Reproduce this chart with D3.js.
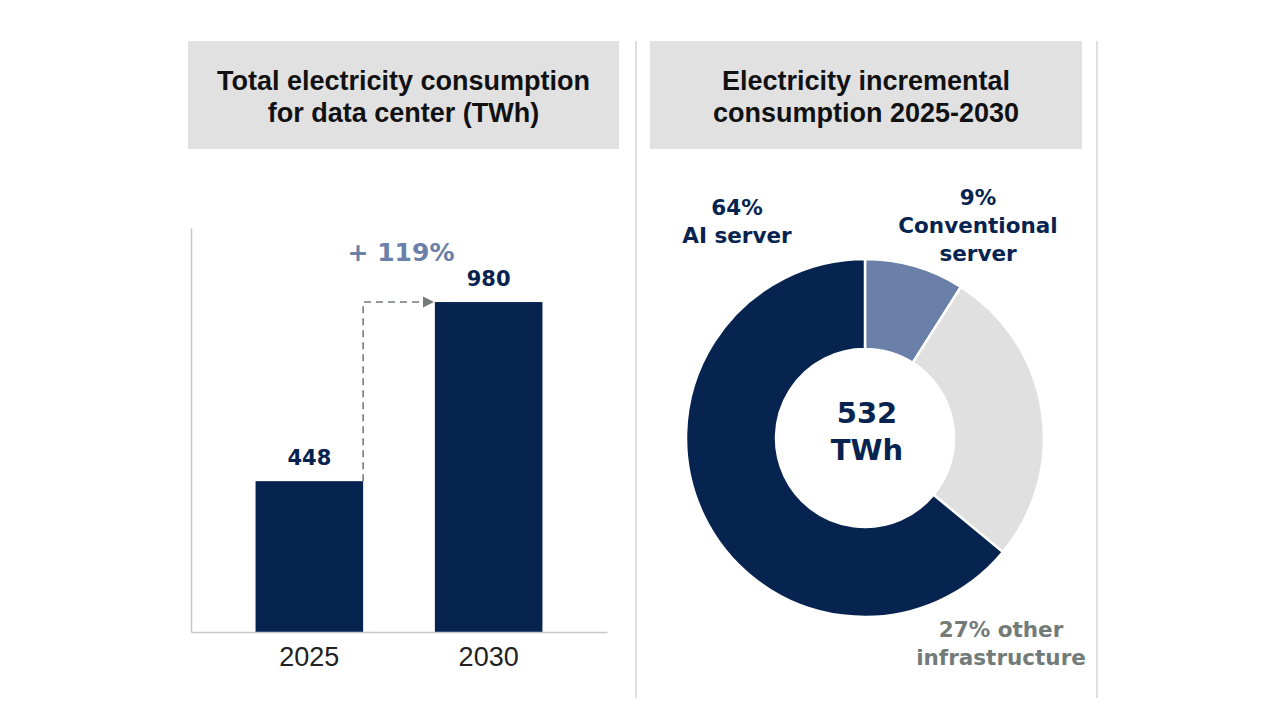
<!DOCTYPE html>
<html>
<head>
<meta charset="utf-8">
<script src="https://cdn.jsdelivr.net/npm/d3@7"></script>
<style>
  body { margin: 0; background: #fff; }
  svg { display: block; }
</style>
</head>
<body>
<div id="chart"></div>
<script>
// data
const years = ["2025", "2030"];
const consumption = [448, 980];
const growthLabel = "+ 119%";

const segments = ["Conventional server", "Other infrastructure", "AI server"];
const shares = [9, 27, 64];
const totalIncrement = 532;

const titleLeft = ["Total electricity consumption", "for data center (TWh)"];
const titleRight = ["Electricity incremental", "consumption 2025-2030"];

const navy = "#072350";
const steel = "#6a80a8";
const lightGray = "#e0e0e0";

const svg = d3.select("#chart").append("svg")
    .attr("width", 1280)
    .attr("height", 720);

// title boxes
function titleBox(x, y, w, h, lines) {
    svg.append("rect")
        .attr("x", x).attr("y", y)
        .attr("width", w).attr("height", h)
        .attr("fill", "#e1e1e1");
    svg.selectAll(null)
        .data(lines)
        .enter()
        .append("text")
        .attr("x", x + w / 2)
        .attr("y", (d, i) => 90 + i * 32)
        .attr("text-anchor", "middle")
        .style("font-family", "'Liberation Sans', Arial, sans-serif")
        .style("font-weight", "bold")
        .style("font-size", "27px")
        .attr("fill", "#111")
        .text(d => d);
}
titleBox(188, 41, 431, 108, titleLeft);
titleBox(650, 41, 432, 108, titleRight);

// divider lines
[636, 1097].forEach(x => {
    svg.append("line")
        .attr("x1", x).attr("x2", x)
        .attr("y1", 41).attr("y2", 698)
        .attr("stroke", "#d6d6d6")
        .attr("stroke-width", 1.5);
});

// ---- bar chart ----
let x = d3.scaleBand()
    .domain(years)
    .range([191, 607])
    .paddingInner(0.4)
    .paddingOuter(0.36);

let y = d3.scaleLinear()
    .domain([0, 1200])
    .range([632, 228]);

let barG = svg.append("g");

barG.selectAll("rect")
    .data(years)
    .enter()
    .append("rect")
    .attr("x", d => x(d))
    .attr("y", (d, i) => y(consumption[i]))
    .attr("width", x.bandwidth())
    .attr("height", (d, i) => y(0) - y(consumption[i]))
    .attr("fill", navy);

barG.selectAll(".val")
    .data(years)
    .enter()
    .append("text")
    .attr("class", "val")
    .attr("x", d => x(d) + x.bandwidth() / 2)
    .attr("y", (d, i) => y(consumption[i]) - 16)
    .attr("text-anchor", "middle")
    .style("font-family", "'DejaVu Sans', Verdana, sans-serif")
    .style("font-weight", "bold")
    .style("font-size", "21px")
    .attr("fill", navy)
    .text((d, i) => consumption[i]);

// axes
let xAxis = d3.axisBottom(x).tickSize(0).tickPadding(15);
let xAxisGroup = barG.append("g")
    .attr("transform", "translate(0," + y(0) + ")")
    .call(xAxis);
xAxisGroup.select(".domain").attr("stroke", "#c8c8c8").attr("stroke-width", 1.5);
xAxisGroup.selectAll("text")
    .style("font-family", "'Liberation Sans', Arial, sans-serif")
    .style("font-size", "27px")
    .attr("fill", "#222");

let yAxis = d3.axisLeft(y).ticks(0).tickSize(0).tickSizeOuter(0);
let yAxisGroup = barG.append("g")
    .attr("transform", "translate(191,0)")
    .call(yAxis);
yAxisGroup.select(".domain").attr("stroke", "#c8c8c8").attr("stroke-width", 1.5);
yAxisGroup.selectAll("text").remove();

// growth arrow
svg.append("defs").append("marker")
    .attr("id", "arrow")
    .attr("viewBox", "0 0 10 10")
    .attr("refX", 9).attr("refY", 5)
    .attr("markerUnits", "userSpaceOnUse")
    .attr("markerWidth", 11).attr("markerHeight", 12)
    .attr("orient", "auto")
    .append("path")
    .attr("d", "M0,0 L10,5 L0,10 Z")
    .attr("fill", "#737b79");

let x0 = x(years[0]) + x.bandwidth();
let x1 = x(years[1]);
barG.append("path")
    .attr("d", "M" + x0 + "," + y(consumption[0]) + " V" + y(consumption[1]) + " H" + (x1 - 2))
    .attr("fill", "none")
    .attr("stroke", "#737b79")
    .attr("stroke-width", 1.6)
    .attr("stroke-dasharray", "7,5")
    .attr("marker-end", "url(#arrow)");

barG.append("text")
    .attr("x", (x0 + x1) / 2 + 2)
    .attr("y", 261)
    .attr("text-anchor", "middle")
    .style("font-family", "'DejaVu Sans', Verdana, sans-serif")
    .style("font-weight", "bold")
    .style("font-size", "25px")
    .attr("fill", steel)
    .text(growthLabel);

// ---- donut ----
let cx = 865, cy = 438, outerR = 179, innerR = 89;
let color = d3.scaleOrdinal()
    .domain(segments)
    .range([steel, lightGray, navy]);

let pie = d3.pie().sort(null).value(d => d.v);
let arc = d3.arc().innerRadius(innerR).outerRadius(outerR);

let donutG = svg.append("g")
    .attr("transform", "translate(" + cx + "," + cy + ")");

donutG.selectAll("path")
    .data(pie(segments.map((s, i) => ({name: s, v: shares[i]}))))
    .enter()
    .append("path")
    .attr("d", arc)
    .attr("fill", d => color(d.data.name))
    .attr("stroke", "#fff")
    .attr("stroke-width", 2.5);

donutG.selectAll(".center")
    .data([totalIncrement, "TWh"])
    .enter()
    .append("text")
    .attr("class", "center")
    .attr("x", 2)
    .attr("y", (d, i) => -15 + i * 37)
    .attr("text-anchor", "middle")
    .style("font-family", "'DejaVu Sans', Verdana, sans-serif")
    .style("font-weight", "bold")
    .style("font-size", "29px")
    .attr("fill", navy)
    .text(d => d);

// slice labels
let sliceLabels = [
    {lines: [shares[2] + "%", "AI server"], x: 737, y: 215, fill: navy},
    {lines: [shares[0] + "%", "Conventional", "server"], x: 978, y: 205, fill: navy},
    {lines: [shares[1] + "% other", "infrastructure"], x: 1001, y: 637, fill: "#737b79"}
];

sliceLabels.forEach(l => {
    svg.selectAll(null)
        .data(l.lines)
        .enter()
        .append("text")
        .attr("x", l.x)
        .attr("y", (d, i) => l.y + i * 28)
        .attr("text-anchor", "middle")
        .style("font-family", "'DejaVu Sans', Verdana, sans-serif")
        .style("font-weight", "bold")
        .style("font-size", "21.5px")
        .attr("fill", l.fill)
        .text(d => d);
});
</script>
</body>
</html>
